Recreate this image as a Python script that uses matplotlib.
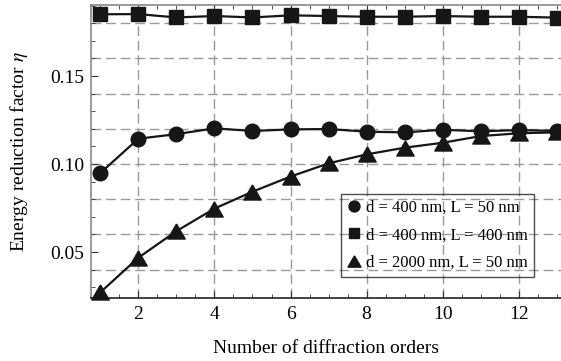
import matplotlib
matplotlib.use("Agg")
import matplotlib.pyplot as plt
from matplotlib.ticker import MultipleLocator, FormatStrFormatter

# diffraction orders
orders = [1, 2, 3, 4, 5, 6, 7, 8, 9, 10, 11, 12, 13]

# d = 400 nm, L = 50 nm
eta_circle = [0.0949, 0.1144, 0.1170, 0.1203, 0.1188, 0.1197, 0.1199,
              0.1184, 0.1180, 0.1195, 0.1186, 0.1193, 0.1188]
# d = 400 nm, L = 400 nm
eta_square = [0.1851, 0.1852, 0.1833, 0.1841, 0.1833, 0.1845, 0.1841,
              0.1837, 0.1837, 0.1841, 0.1837, 0.1837, 0.1832]
# d = 2000 nm, L = 50 nm
eta_triangle = [0.0271, 0.0468, 0.0619, 0.0747, 0.0843, 0.0929, 0.1004,
                0.1055, 0.1093, 0.1121, 0.1159, 0.1175, 0.1180]

labels = ["d = 400 nm, L = 50 nm",
          "d = 400 nm, L = 400 nm",
          "d = 2000 nm, L = 50 nm"]

plt.rcParams['font.family'] = ['Liberation Serif', 'DejaVu Serif']
plt.rcParams['mathtext.fontset'] = 'stix'

# equilateral-ish triangle, centred on its bounding box
tri = [(0, 0.433), (-0.5, -0.433), (0.5, -0.433), (0, 0.433)]

fig = plt.figure(figsize=(5.61, 3.61), dpi=100)
ax = fig.add_axes([91 / 561, 1 - 298 / 361, 1 - 91 / 561, (298 - 5.3) / 361])

col = '#161616'
ax.plot(orders, eta_circle, '-o', color=col, lw=1.6, ms=10.5, label=labels[0], clip_on=False, zorder=3)
ax.plot(orders, eta_square, '-s', color=col, lw=1.6, ms=9.5, label=labels[1], clip_on=False, zorder=3)
ax.plot(orders, eta_triangle, '-', marker=tri, color=col, lw=1.6, ms=12.5, label=labels[2], clip_on=False, zorder=3)

ax.set_xlim(0.755, 13.11)
ax.set_ylim(0.0239, 0.1902)

ax.xaxis.set_major_locator(MultipleLocator(2))
ax.xaxis.set_minor_locator(MultipleLocator(0.5))
ax.yaxis.set_major_locator(MultipleLocator(0.05))
ax.yaxis.set_minor_locator(MultipleLocator(0.01))
ax.yaxis.set_major_formatter(FormatStrFormatter('%.2f'))

ax.tick_params(which='both', direction='in', top=True, right=False, labelsize=14,
               color='#333333')
ax.tick_params(which='major', length=5, width=0.8)
ax.tick_params(which='minor', length=3, width=0.6)
ax.tick_params(axis='x', pad=6)
ax.tick_params(axis='y', pad=5)

for s in ['left', 'top', 'bottom']:
    ax.spines[s].set_color('#888888')
    ax.spines[s].set_linewidth(1.2)
ax.spines['bottom'].set_color('#222222')
ax.spines['right'].set_visible(False)

# dashed grid: vertical at major x, horizontal every 0.02
for xv in range(2, 13, 2):
    ax.axvline(xv, color='#9a9a9a', lw=1.0, ls=(0, (7, 3.5)), zorder=1)
for k in range(2, 10):
    ax.axhline(0.02 * k, color='#9a9a9a', lw=1.0, ls=(0, (7, 3.5)), zorder=1)

ax.set_xlabel('Number of diffraction orders', fontsize=14, labelpad=12)
ax.set_ylabel(r'Energy reduction factor $\eta$', fontsize=14, labelpad=14)

leg = ax.legend(loc='lower right', bbox_to_anchor=(0.942, 0.072), fontsize=12,
                frameon=True, fancybox=False, handlelength=0.8, handletextpad=0.3,
                borderpad=0.38, labelspacing=0.68, borderaxespad=0, markerscale=0.75)
for h in leg.legend_handles:
    h.set_linestyle('None')
leg.get_frame().set_facecolor('none')
leg.get_frame().set_edgecolor('#222222')
leg.get_frame().set_linewidth(1.0)

fig.savefig('out.png', dpi=100)
